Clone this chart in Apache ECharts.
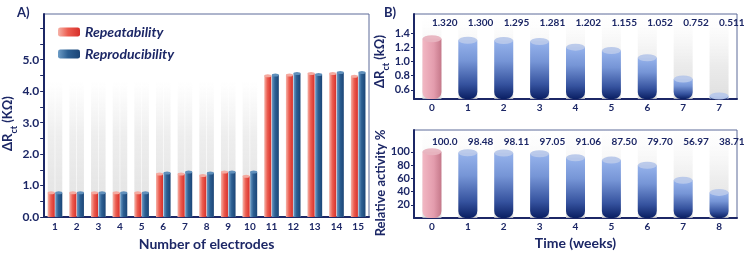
<!DOCTYPE html>
<html><head><meta charset="utf-8">
<script src="https://cdn.jsdelivr.net/npm/echarts@6/dist/echarts.min.js"></script>
<style>html,body{margin:0;padding:0;background:#fff}#c{width:746px;height:256px}</style>
</head><body><div id="c"></div>
<script>
// ---- data ----
const electrodes = ['1','2','3','4','5','6','7','8','9','10','11','12','13','14','15'];
const repeatability   = [0.77,0.77,0.77,0.77,0.77,1.37,1.37,1.32,1.43,1.30,4.49,4.51,4.56,4.56,4.47];
const reproducibility = [0.77,0.77,0.77,0.77,0.77,1.40,1.43,1.40,1.43,1.43,4.51,4.56,4.53,4.59,4.59];
const yTicksA = [0,1,2,3,4,5];
const yMinorA = [0,0.5,1,1.5,2,2.5,3,3.5,4,4.5,5,5.5,6];

const weeksTop = ['0','1','2','3','4','5','6','7','7'];
const rctValues = [1.320,1.300,1.295,1.281,1.202,1.155,1.052,0.752,0.511];
const rctLabels = ['1.320','1.300','1.295','1.281','1.202','1.155','1.052','0.752','0.511'];
const yTicksRct = [0.6,0.8,1.0,1.2,1.4];

const weeksBottom = ['0','1','2','3','4','5','6','7','8'];
const activityValues = [100.0,98.48,98.11,97.05,91.06,87.50,79.70,56.97,38.71];
const activityLabels = ['100.0','98.48','98.11','97.05','91.06','87.50','79.70','56.97','38.71'];
const yTicksAct = [20,40,60,80,100];

// ---- styles ----
const FF = 'Lato';
const NAVY = '#1c2766';
const LG = (x0,y0,x1,y1,stops) => new echarts.graphic.LinearGradient(x0,y0,x1,y1,stops.map(s=>({offset:s[0],color:s[1]})));
const redGrad  = LG(0,0,1,0,[[0,'#f6b3a8'],[0.45,'#ec5d50'],[1,'#d7302b']]);
const blueGrad = LG(0,0,1,0,[[0,'#6d9cc6'],[0.45,'#2c5f92'],[1,'#1b4577']]);
const bBlue = LG(0,0,0,1,[[0,'#96b3ec'],[0.35,'#7695d6'],[0.75,'#35529e'],[1,'#0a1f63']]);
const bPink = LG(0,0,1,0,[[0,'#f2b8c4'],[0.6,'#e39cad'],[1,'#c5788a']]);
const bgA = LG(0,0,0,1,[[0,'rgba(235,235,235,0)'],[0.33,'rgba(232,232,232,0)'],[0.6,'rgba(226,226,226,0.6)'],[1,'rgba(220,220,220,0.85)']]);
const bgB = LG(0,0,0,1,[[0,'rgba(235,235,235,0)'],[0.15,'rgba(232,232,232,0.1)'],[0.6,'rgba(222,222,222,0.6)'],[1,'rgba(215,215,215,0.8)']]);

const axisLbl = (size) => ({color:NAVY, fontSize:size, fontWeight:'bold', fontFamily:FF});
const gridBase = {show:true, borderColor:'#5d6a99', borderWidth:1, backgroundColor:'transparent'};

const chart = echarts.init(document.getElementById('c'), null, {renderer:'canvas'});
chart.setOption({
  animation:false,
  textStyle:{fontFamily:FF},
  graphic:[
    {type:'text', left:17, top:6, style:{text:'A)', font:'bold 13px '+FF, fill:NAVY}},
    {type:'text', left:384, top:6, style:{text:'B)', font:'bold 13px '+FF, fill:NAVY}}
  ],
  legend:{
    data:['Repeatability','Reproducibility'], orient:'vertical', left:53, top:20,
    itemWidth:22, itemHeight:9, itemGap:8,
    textStyle:{color:NAVY, fontSize:14, fontWeight:'bold', fontStyle:'italic', fontFamily:FF}
  },
  grid:[
    Object.assign({left:43, top:14, width:326, height:204}, gridBase),
    Object.assign({left:414, top:14, width:323, height:85}, gridBase),
    Object.assign({left:414, top:130, width:323, height:88}, gridBase)
  ],
  xAxis:[
    {gridIndex:0, type:'category', data:electrodes,
     axisLine:{lineStyle:{color:NAVY,width:2}}, axisTick:{show:false},
     axisLabel:Object.assign({margin:5}, axisLbl(10)),
     name:'Number of electrodes', nameLocation:'middle', nameGap:19,
     nameTextStyle:{color:NAVY, fontSize:14, fontWeight:'bold', fontFamily:FF}},
    {gridIndex:1, type:'category', data:weeksTop,
     axisLine:{lineStyle:{color:NAVY,width:2}}, axisTick:{show:false},
     axisLabel:Object.assign({margin:4}, axisLbl(10))},
    {gridIndex:2, type:'category', data:weeksBottom,
     axisLine:{lineStyle:{color:NAVY,width:2}}, axisTick:{show:false},
     axisLabel:Object.assign({margin:4}, axisLbl(10)),
     name:'Time (weeks)', nameLocation:'middle', nameGap:18,
     nameTextStyle:{color:NAVY, fontSize:14, fontWeight:'bold', fontFamily:FF}}
  ],
  yAxis:[
    {gridIndex:0, type:'value', min:0, max:6.45,
     axisLine:{show:true, lineStyle:{color:NAVY,width:2}},
     axisTick:{show:true, length:4, customValues:yMinorA, lineStyle:{color:NAVY,width:1}},
     axisLabel:Object.assign({margin:5, customValues:yTicksA, formatter:v=>v.toFixed(1)}, axisLbl(12)),
     splitLine:{show:false},
     name:'{a|ΔR}{s|ct}{a| (KΩ)}', nameLocation:'middle', nameGap:22,
     nameTextStyle:{padding:[0,16,0,0], rich:{a:{color:NAVY,fontSize:13,fontWeight:'bold',fontFamily:FF,lineHeight:16,verticalAlign:'middle'}, s:{color:NAVY,fontSize:9,fontWeight:'bold',fontFamily:FF,lineHeight:10,verticalAlign:'bottom',padding:[0,0,-3,0]}}}},
    {gridIndex:1, type:'value', min:0.47, max:1.67,
     axisLine:{show:true, lineStyle:{color:NAVY,width:2}},
     axisTick:{show:true, length:3, customValues:yTicksRct, lineStyle:{color:NAVY,width:1}},
     axisLabel:Object.assign({margin:4, customValues:yTicksRct, formatter:v=>v.toFixed(1)}, axisLbl(11)),
     splitLine:{show:false},
     name:'{a|ΔR}{s|ct}{a| (kΩ)}', nameLocation:'middle', nameGap:15,
     nameTextStyle:{padding:[0,10,0,0], rich:{a:{color:NAVY,fontSize:13,fontWeight:'bold',fontFamily:FF,lineHeight:16,verticalAlign:'middle'}, s:{color:NAVY,fontSize:9,fontWeight:'bold',fontFamily:FF,lineHeight:10,verticalAlign:'bottom',padding:[0,0,-3,0]}}}},
    {gridIndex:2, type:'value', min:0, max:133,
     axisLine:{show:true, lineStyle:{color:NAVY,width:2}},
     axisTick:{show:true, length:3, customValues:yTicksAct, lineStyle:{color:NAVY,width:1}},
     axisLabel:Object.assign({margin:4, customValues:yTicksAct}, axisLbl(11)),
     splitLine:{show:false},
     name:'Relative activity %', nameLocation:'middle', nameGap:18,
     nameTextStyle:{color:NAVY, fontSize:13, fontWeight:'bold', fontFamily:FF, padding:[0,18,0,0]}}
  ],
  series:[
    // Panel A
    {name:'Repeatability', type:'bar', xAxisIndex:0, yAxisIndex:0, data:repeatability,
     barWidth:7, barGap:'8%', itemStyle:{color:redGrad},
     showBackground:true, backgroundStyle:{color:bgA}},
    {name:'Reproducibility', type:'bar', xAxisIndex:0, yAxisIndex:0, data:reproducibility,
     barWidth:7, barGap:'8%', itemStyle:{color:blueGrad},
     showBackground:true, backgroundStyle:{color:bgA}},
    {name:'capR', type:'pictorialBar', xAxisIndex:0, yAxisIndex:0, data:repeatability,
     barWidth:7, barGap:'8%', symbol:'circle', symbolSize:[7,3], symbolPosition:'end', symbolOffset:[0,'-50%'],
     itemStyle:{color:'#f4aaa0'}, z:3},
    {name:'capB', type:'pictorialBar', xAxisIndex:0, yAxisIndex:0, data:reproducibility,
     barWidth:7, barGap:'8%', symbol:'circle', symbolSize:[7,3], symbolPosition:'end', symbolOffset:[0,'-50%'],
     itemStyle:{color:'#5f8fbb'}, z:3},
    // Panel B top
    {name:'rct', type:'bar', xAxisIndex:1, yAxisIndex:1, data:rctValues, barWidth:19,
     itemStyle:{color:p=>p.dataIndex===0?bPink:bBlue, borderRadius:[0,0,7,7]},
     showBackground:true, backgroundStyle:{color:bgB},
     label:{show:true, position:'top', formatter:p=>rctLabels[p.dataIndex], color:NAVY, fontSize:10, fontWeight:'bold', fontFamily:FF},
     labelLayout:()=>({y:23, verticalAlign:'middle'})},
    {name:'rctCap', type:'pictorialBar', xAxisIndex:1, yAxisIndex:1, data:rctValues,
     symbol:'circle', symbolSize:[19,7], symbolPosition:'end', symbolOffset:[0,'-50%'],
     itemStyle:{color:p=>p.dataIndex===0?'rgba(232,180,192,0.95)':'rgba(184,200,234,0.95)'}, z:3},
    // Panel B bottom
    {name:'act', type:'bar', xAxisIndex:2, yAxisIndex:2, data:activityValues, barWidth:19,
     itemStyle:{color:p=>p.dataIndex===0?bPink:bBlue, borderRadius:[0,0,7,7]},
     showBackground:true, backgroundStyle:{color:bgB},
     label:{show:true, position:'top', formatter:p=>activityLabels[p.dataIndex], color:NAVY, fontSize:10, fontWeight:'bold', fontFamily:FF},
     labelLayout:()=>({y:141.5, verticalAlign:'middle'})},
    {name:'actCap', type:'pictorialBar', xAxisIndex:2, yAxisIndex:2, data:activityValues,
     symbol:'circle', symbolSize:[19,7], symbolPosition:'end', symbolOffset:[0,'-50%'],
     itemStyle:{color:p=>p.dataIndex===0?'rgba(232,180,192,0.95)':'rgba(184,200,234,0.95)'}, z:3}
  ]
});
</script></body></html>
